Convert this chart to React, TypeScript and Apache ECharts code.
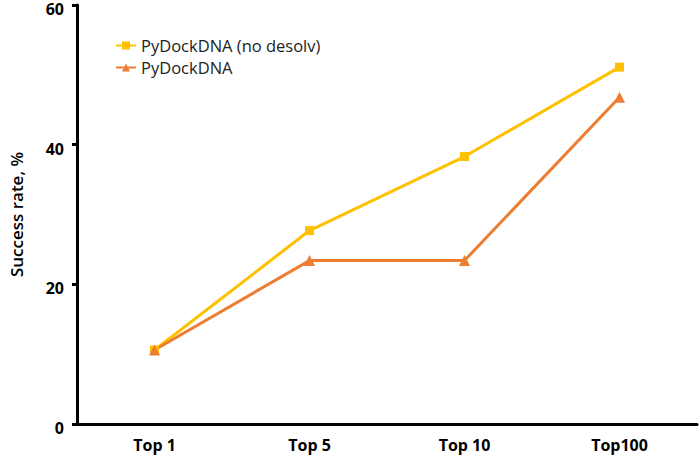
import React, { useEffect, useRef } from "react";
import * as echarts from "echarts";

const categories = ["Top 1", "Top 5", "Top 10", "Top100"];
const noDesolv = [10.6, 27.7, 38.3, 51.1];
const pyDock = [10.6, 23.4, 23.4, 46.8];
const yTicks = { min: 0, max: 60, interval: 20 };

const FONT = "'Open Sans', 'Noto Sans', sans-serif";

export default function App() {
  const ref = useRef<HTMLDivElement>(null);
  useEffect(() => {
    if (!ref.current) return;
    const chart = echarts.init(ref.current, undefined, { renderer: "svg" });
    chart.setOption({
      animation: false,
      backgroundColor: "#ffffff",
      grid: { left: 73, right: 2, top: 5, bottom: 41, containLabel: false },
      legend: {
        orient: "vertical",
        left: 110,
        top: 32,
        itemWidth: 20,
        itemHeight: 10,
        itemGap: 5,
        textStyle: { fontFamily: FONT, fontSize: 16.5, color: "#222" },
        data: ["PyDockDNA (no desolv)", "PyDockDNA"],
      },
      xAxis: {
        type: "category",
        data: categories,
        boundaryGap: true,
        axisLine: { lineStyle: { color: "#000", width: 3 } },
        axisTick: { alignWithLabel: true, length: 5, lineStyle: { color: "#000", width: 3 } },
        axisLabel: { fontFamily: FONT, fontWeight: "bold", fontSize: 16, color: "#000", margin: 13 },
      },
      yAxis: {
        type: "value",
        min: yTicks.min,
        max: yTicks.max,
        interval: yTicks.interval,
        name: "Success rate, %",
        nameLocation: "middle",
        nameGap: 52,
        nameTextStyle: { fontFamily: FONT, fontWeight: 600, fontSize: 17, color: "#000" },
        axisLine: { show: true, lineStyle: { color: "#000", width: 3 } },
        axisTick: { show: true, length: 5, lineStyle: { color: "#000", width: 3 } },
        axisLabel: {
          fontFamily: FONT,
          fontWeight: "bold",
          fontSize: 16,
          color: "#000",
          margin: 13,
          verticalAlign: "top",
          lineHeight: 8,
        },
        splitLine: { show: false },
      },
      series: [
        {
          name: "PyDockDNA (no desolv)",
          type: "line",
          data: noDesolv,
          symbol: "rect",
          symbolSize: 9,
          itemStyle: { color: "#FFC000" },
          lineStyle: { color: "#FFC000", width: 3 },
        },
        {
          name: "PyDockDNA",
          type: "line",
          data: pyDock,
          symbol: "triangle",
          symbolSize: 11,
          itemStyle: { color: "#ED7D31" },
          lineStyle: { color: "#ED7D31", width: 3 },
        },
      ],
    });
    return () => chart.dispose();
  }, []);
  return <div ref={ref} style={{ width: 699, height: 465, position: "absolute", left: 0, top: 0 }} />;
}
